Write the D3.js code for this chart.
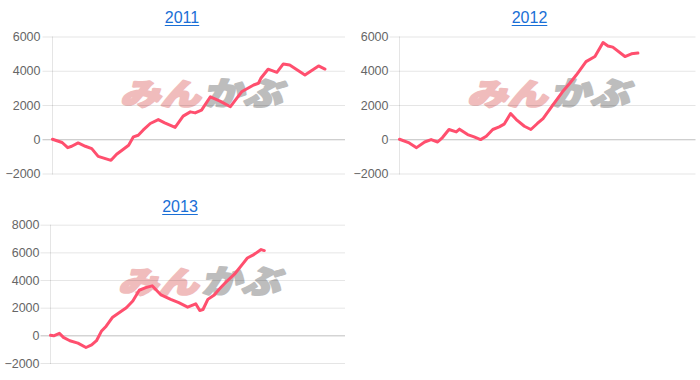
<!DOCTYPE html>
<html>
<head>
<meta charset="utf-8">
<script src="https://cdn.jsdelivr.net/npm/d3@7"></script>
<style>
  html, body { margin: 0; padding: 0; background: #fff; }
  svg { display: block; }
</style>
</head>
<body>
<svg id="chart" width="700" height="380"></svg>
<script>
// ---- data (cumulative P&L by day of year) ----
const years = ["2011", "2012", "2013"];

const days2011 = [0, 12, 19, 24, 32, 41, 49, 57, 66, 73, 80, 88, 95, 101, 107, 113, 122, 132, 140, 153, 163, 172, 178, 186, 197, 209, 222, 236, 251, 257, 260, 269, 280, 288, 296, 315, 332, 340];
const pnl2011  = [0, -190, -490, -410, -215, -410, -545, -1000, -1130, -1230, -880, -600, -350, 140, 235, 530, 920, 1150, 960, 690, 1350, 1600, 1540, 1700, 2480, 2230, 1900, 2770, 3170, 3270, 3560, 4090, 3910, 4400, 4340, 3750, 4280, 4100];

const days2012 = [0, 12, 21, 31, 39, 47, 53, 61, 70, 74, 84, 92, 100, 107, 115, 123, 129, 137, 144, 154, 162, 170, 177, 189, 201, 210, 218, 230, 241, 251, 257, 263, 278, 286, 294];
const pnl2012  = [0, -215, -490, -160, -20, -160, 100, 570, 430, 590, 275, 140, -20, 175, 570, 720, 880, 1500, 1150, 760, 570, 920, 1210, 1990, 2770, 3270, 3750, 4530, 4830, 5650, 5450, 5380, 4830, 4990, 5030];

const days2013 = [0, 4, 11, 16, 24, 34, 44, 51, 57, 63, 69, 77, 85, 94, 102, 110, 118, 126, 137, 149, 159, 170, 180, 185, 189, 195, 203, 209, 217, 228, 238, 244, 252, 261, 265];
const pnl2013  = [0, -30, 150, -150, -390, -560, -880, -690, -390, 290, 660, 1310, 1630, 2000, 2480, 3260, 3450, 3580, 2920, 2600, 2360, 2040, 2280, 1800, 1870, 2600, 2920, 3330, 3820, 4420, 5150, 5590, 5840, 6200, 6130];

const ticksA = [-2000, 0, 2000, 4000, 6000];
const ticksB = [-2000, 0, 2000, 4000, 6000, 8000];
const dayDomain = [0, 365];

// ---- layout ----
const panels = [
  { title: years[0], days: days2011, pnl: pnl2011, ticks: ticksA, left: 52.5, right: 345, top: 36.5, bottom: 173.5, titleX: 182, titleY: 23, labelGap: 12 },
  { title: years[1], days: days2012, pnl: pnl2012, ticks: ticksA, left: 399.5, right: 695.5, top: 36.5, bottom: 173.5, titleX: 529.5, titleY: 23, labelGap: 11 },
  { title: years[2], days: days2013, pnl: pnl2013, ticks: ticksB, left: 50.5, right: 345, top: 224.7, bottom: 363, titleX: 180, titleY: 212, labelGap: 11 }
];

const svg = d3.select("#chart");
const axisFont = "'Helvetica Neue', Helvetica, Arial, 'Liberation Sans', sans-serif";

panels.forEach(p => {
  const x = d3.scaleLinear().domain(dayDomain).range([p.left, p.right]);
  const y = d3.scaleLinear().domain(d3.extent(p.ticks)).range([p.bottom, p.top]);
  const g = svg.append("g");

  // title (underlined link style)
  const t = g.append("text")
    .attr("x", p.titleX).attr("y", p.titleY)
    .attr("text-anchor", "middle")
    .attr("font-family", axisFont)
    .attr("font-size", 16)
    .attr("fill", "#1a6fd6")
    .text(p.title);
  const tw = t.node().getComputedTextLength();
  g.append("line")
    .attr("x1", p.titleX - tw / 2).attr("x2", p.titleX + tw / 2)
    .attr("y1", p.titleY + 2.5).attr("y2", p.titleY + 2.5)
    .attr("stroke", "#1a6fd6").attr("stroke-width", 1.2);

  // watermark
  const wm = g.append("g")
    .attr("transform", `translate(${p.left + 62}, ${p.top + 68}) skewX(-14)`);
  wm.append("text")
    .attr("x", 6).attr("y", 0)
    .attr("font-family", "'Noto Sans CJK JP', sans-serif")
    .attr("font-weight", 900)
    .attr("font-size", 30)
    .attr("textLength", 80).attr("lengthAdjust", "spacingAndGlyphs")
    .attr("fill", "#f0bcbc")
    .attr("stroke", "#f0bcbc").attr("stroke-width", 2.2).attr("stroke-linejoin", "round")
    .text("みん");
  wm.append("text")
    .attr("x", 89).attr("y", 0)
    .attr("font-family", "'Noto Sans CJK JP', sans-serif")
    .attr("font-weight", 900)
    .attr("font-size", 32)
    .attr("textLength", 79).attr("lengthAdjust", "spacingAndGlyphs")
    .attr("fill", "#bdbdbd")
    .attr("stroke", "#bdbdbd").attr("stroke-width", 2).attr("stroke-linejoin", "round")
    .text("かぶ");

  // y axis with gridlines
  const yAxis = d3.axisLeft(y)
    .tickValues(p.ticks)
    .tickSize(-(p.right - p.left))
    .tickPadding(0)
    .tickFormat(d3.format("d"));
  const ag = g.append("g").attr("transform", `translate(${p.left},0)`).call(yAxis);
  ag.select(".domain").remove();
  ag.selectAll(".tick line")
    .attr("x1", -10)
    .attr("stroke", d => d === 0 ? "rgba(0,0,0,0.25)" : "rgba(0,0,0,0.1)")
    .attr("stroke-width", 1);
  ag.selectAll(".tick text")
    .attr("x", -p.labelGap)
    .attr("font-family", axisFont)
    .attr("font-size", 12.5)
    .attr("fill", "#666");

  // left axis line
  g.append("line")
    .attr("x1", p.left).attr("x2", p.left)
    .attr("y1", p.top).attr("y2", p.bottom + 1)
    .attr("stroke", "rgba(0,0,0,0.1)");

  // series line
  const pts = p.days.map((d, i) => [d, p.pnl[i]]);
  const line = d3.line().x(d => x(d[0])).y(d => y(d[1]));
  g.append("path")
    .datum(pts)
    .attr("d", line)
    .attr("fill", "none")
    .attr("stroke", "#ff4f6e")
    .attr("stroke-width", 3)
    .attr("stroke-linejoin", "round")
    .attr("stroke-linecap", "round");
});
</script>
</body>
</html>
